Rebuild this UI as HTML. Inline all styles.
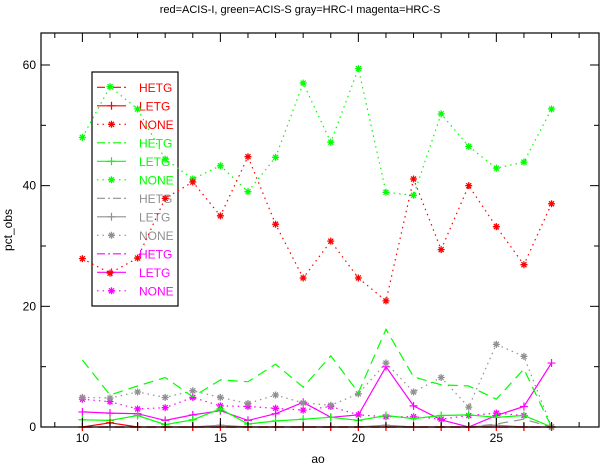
<!DOCTYPE html>
<html><head><meta charset="utf-8"><style>
html,body{margin:0;padding:0;background:#fff;}
svg{display:block;font-family:"Liberation Sans",sans-serif;}
</style></head><body>
<svg id="chart" width="600" height="467" viewBox="0 0 600 467" xmlns="http://www.w3.org/2000/svg">
<text x="300" y="13" font-size="11" text-anchor="middle">red=ACIS-I, green=ACIS-S gray=HRC-I magenta=HRC-S</text>
<text x="318" y="463" font-size="12" text-anchor="middle">ao</text>
<text x="12" y="230" font-size="12" text-anchor="middle" transform="rotate(-90 12 230)">pct_obs</text>
<g id="plot"></g>
</svg>
<script>
const aoValues = [10,11,12,13,14,15,16,17,18,19,20,21,22,23,24,25,26,27];
const acisIHetg = [0,0,0,0,0,0,0,0,0,0,0,0,0,0,0,0,0,0];
const acisILetg = [0,0.7,0,0,0,0,0,0,0,0,0,0,0,0,0,0,0,0];
const acisINone = [27.9,25.5,28.0,37.9,40.6,35.0,44.8,33.6,24.7,30.8,24.7,20.9,41.1,29.4,40.0,33.2,26.9,37.0];
const acisSHetg = [11.1,5.3,6.8,8.2,5.0,7.8,7.5,10.4,6.6,11.8,5.7,16.2,8.3,7.0,6.8,4.6,9.6,0];
const acisSLetg = [1.2,1.1,1.9,0.4,1.2,3.0,0.5,1.0,1.3,1.6,1.1,1.9,1.4,1.9,2.0,1.6,1.9,0];
const acisSNone = [48.0,56.4,52.7,44.4,41.1,43.3,39.0,44.7,57.0,47.2,59.4,38.9,38.4,51.9,46.5,42.9,43.9,52.7];
const hrcIHetg = [0,0,0,0,0,0,0,0,0,0,0,0,0,0,0,0.5,1.3,0];
const hrcILetg = [0,0,0,0,0,0.3,0,0,0,0,0,0.3,0,0,0,0.3,0,0];
const hrcINone = [4.9,4.8,5.8,4.9,6.0,4.9,3.9,5.3,4.0,3.6,5.5,10.6,5.8,8.2,3.3,13.7,11.7,0];
const hrcSHetg = [0,0,0,0,0,0,0,0,0,0,0,0,0,0,0,0,0,0];
const hrcSLetg = [2.5,2.3,2.2,1.1,2.0,2.7,1.1,2.2,4.1,1.6,2.0,10.0,3.5,1.2,0,1.9,3.4,10.6];
const hrcSNone = [4.6,4.2,3.0,3.2,4.9,3.5,3.4,3.1,2.8,3.4,2.0,1.7,1.7,1.3,1.9,2.3,1.9,0];
const xTicks = [10,15,20,25];
const yTicks = [0,20,40,60];
const legendLabels = ["HETG","LETG","NONE","HETG","LETG","NONE","HETG","LETG","NONE","HETG","LETG","NONE"];

const NS="http://www.w3.org/2000/svg";
const L=41,R=599,T=33,B=427;
const xMin=8.5,xMax=28.72,yMin=0,yMax=65.3;
const xs=v=>L+(v-xMin)/(xMax-xMin)*(R-L);
const ys=v=>B-(v-yMin)/(yMax-yMin)*(B-T);
const g=document.getElementById('plot');
function mk(tag,attrs,parent){const e=document.createElementNS(NS,tag);for(const k in attrs)e.setAttribute(k,attrs[k]);(parent||g).appendChild(e);return e;}

const series=[
 {d:acisIHetg,c:"#ff0000",s:"hetg",n:"acis-i-hetg"},
 {d:acisILetg,c:"#ff0000",s:"letg",n:"acis-i-letg"},
 {d:acisINone,c:"#ff0000",s:"none",n:"acis-i-none"},
 {d:acisSHetg,c:"#00ff00",s:"hetg",n:"acis-s-hetg"},
 {d:acisSLetg,c:"#00ff00",s:"letg",n:"acis-s-letg"},
 {d:acisSNone,c:"#00ff00",s:"none",n:"acis-s-none"},
 {d:hrcIHetg,c:"#909090",s:"hetg",n:"hrc-i-hetg"},
 {d:hrcILetg,c:"#909090",s:"letg",n:"hrc-i-letg"},
 {d:hrcINone,c:"#909090",s:"none",n:"hrc-i-none"},
 {d:hrcSHetg,c:"#ff00ff",s:"hetg",n:"hrc-s-hetg"},
 {d:hrcSLetg,c:"#ff00ff",s:"letg",n:"hrc-s-letg"},
 {d:hrcSNone,c:"#ff00ff",s:"none",n:"hrc-s-none"}
];
function dash(s){return s==="hetg"?"10,6":(s==="none"?"1.5,4":"none");}
function marker(s,x,y,c,parent){
 if(s==="letg"){mk('path',{d:`M${x-4},${y}H${x+4}M${x},${y-4}V${y+4}`,stroke:c,'stroke-width':1.2,fill:'none'},parent);}
 else if(s==="none"){mk('path',{d:`M${x-3.5},${y}H${x+3.5}M${x},${y-3.5}V${y+3.5}M${x-2.5},${y-2.5}L${x+2.5},${y+2.5}M${x-2.5},${y+2.5}L${x+2.5},${y-2.5}`,stroke:c,'stroke-width':1.3,fill:'none'},parent);}
}
// legend (transparent, drawn beneath series)
const lg=mk('g',{});


mk('rect',{x:92,y:72,width:86,height:234,fill:'none',stroke:'#000','stroke-width':1.2},lg);
series.forEach((sr,i)=>{
 const y=87.3+i*18.5;
 const e=mk('g',{},lg);
 
 
 mk('line',{x1:97,x2:126,y1:y,y2:y,stroke:sr.c,'stroke-width':1.2,'stroke-dasharray':sr.s==="hetg"?"8,3,2,3":dash(sr.s)},e);
 marker(sr.s,111.5,y,sr.c,e);
 const t=mk('text',{x:139,y:y+4.5,'font-size':12,fill:sr.c},e);
 t.textContent=legendLabels[i];
});
// series
series.slice().reverse().forEach(sr=>{
 const grp=mk('g',{});
 
 
 const pts=sr.d.map((v,i)=>xs(aoValues[i]).toFixed(1)+","+ys(v).toFixed(1)).join(" ");
 const pl=mk('polyline',{points:pts,fill:'none',stroke:sr.c,'stroke-width':1.2,'stroke-dasharray':dash(sr.s)},grp);
 
 
 sr.d.forEach((v,i)=>marker(sr.s,xs(aoValues[i]),ys(v),sr.c,grp));
});
// frame
const fr=mk('rect',{x:L,y:T,width:R-L,height:B-T,fill:'none',stroke:'#000','stroke-width':1.2});


for(let v=9;v<=28;v++){
 const x=xs(v),len=xTicks.includes(v)?9:5;
 mk('line',{x1:x,x2:x,y1:B,y2:B-len,stroke:'#000','stroke-width':1});
 mk('line',{x1:x,x2:x,y1:T,y2:T+len,stroke:'#000','stroke-width':1});
}
xTicks.forEach(v=>{
 const t=mk('text',{x:xs(v),y:B+15,'font-size':12,'text-anchor':'middle'});
 t.textContent=v;
 
 
});
for(let v=0;v<=60;v+=10){
 const y=ys(v),len=yTicks.includes(v)?9:5;
 mk('line',{x1:L,x2:L+len,y1:y,y2:y,stroke:'#000','stroke-width':1});
 mk('line',{x1:R,x2:R-len,y1:y,y2:y,stroke:'#000','stroke-width':1});
}
yTicks.forEach(v=>{
 const t=mk('text',{x:L-5,y:ys(v)+4,'font-size':12,'text-anchor':'end'});
 t.textContent=v;
 
 
});
</script>
</body></html>
